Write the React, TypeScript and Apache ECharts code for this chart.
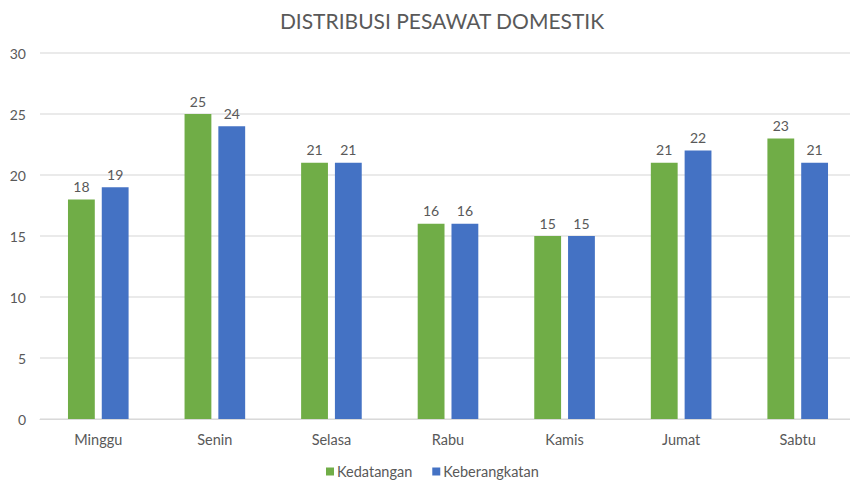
import React, { useEffect, useRef } from "react";
import * as echarts from "echarts";

const categories = ["Minggu", "Senin", "Selasa", "Rabu", "Kamis", "Jumat", "Sabtu"];
const kedatangan = [18, 25, 21, 16, 15, 21, 23];
const keberangkatan = [19, 24, 21, 16, 15, 22, 21];
const yTicks = { min: 0, max: 30, interval: 5 };

const FONT = "Lato, 'Open Sans', sans-serif";
const TXT = "#595959";

export default function App() {
  const ref = useRef<HTMLDivElement>(null);
  useEffect(() => {
    document.body.style.margin = "0";
    const chart = echarts.init(ref.current!, null, { renderer: "svg" });
    const label = {
      show: true,
      position: "top" as const,
      distance: 6,
      color: TXT,
      fontSize: 14,
      fontFamily: FONT,
    };
    chart.setOption({
      animation: false,
      textStyle: { fontFamily: FONT },
      title: {
        text: "DISTRIBUSI PESAWAT DOMESTIK",
        left: 437,
        textAlign: "center",
        top: 5,
        textStyle: { color: TXT, fontSize: 21, fontWeight: "normal", fontFamily: FONT },
      },
      legend: {
        top: 459,
        left: 321,
        itemWidth: 8,
        itemHeight: 8,
        itemGap: 20,
        icon: "rect",
        textStyle: { color: TXT, fontSize: 14.5, fontFamily: FONT, padding: [0, 0, 0, -2] },
      },
      grid: { left: 40, top: 53, width: 816, height: 366 },
      xAxis: {
        type: "category",
        data: categories,
        axisLine: { lineStyle: { color: "#d9d9d9" } },
        axisTick: { show: false },
        axisLabel: { color: TXT, fontSize: 14.5, margin: 13, fontFamily: FONT },
      },
      yAxis: {
        type: "value",
        min: yTicks.min,
        max: yTicks.max,
        interval: yTicks.interval,
        axisLine: { show: false },
        axisTick: { show: false },
        axisLabel: { color: TXT, fontSize: 14, margin: 14, fontFamily: FONT },
        splitLine: { lineStyle: { color: "#e3e3e3", width: 1.5 } },
      },
      series: [
        {
          name: "Kedatangan",
          type: "bar",
          data: kedatangan,
          itemStyle: { color: "#70AD47" },
          barGap: "26%",
          barCategoryGap: "48%",
          label,
        },
        {
          name: "Keberangkatan",
          type: "bar",
          data: keberangkatan,
          itemStyle: { color: "#4472C4" },
          label,
        },
      ],
    });
    return () => chart.dispose();
  }, []);
  return (
    <div style={{ width: 850, height: 482, overflow: "hidden", position: "relative" }}>
      <div ref={ref} style={{ width: 870, height: 482 }} />
    </div>
  );
}
